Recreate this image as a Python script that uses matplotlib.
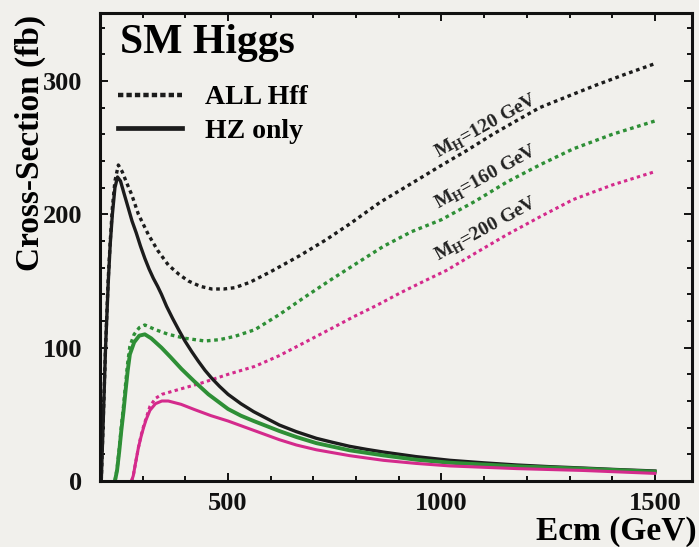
import matplotlib
matplotlib.use("Agg")
import matplotlib.pyplot as plt
from matplotlib.lines import Line2D
from matplotlib.ticker import MultipleLocator

# ---- data (Ecm in GeV, cross-section in fb) ----
# M_H = 120 GeV
x120_hz = [203, 205, 208, 213, 219.5, 224, 229, 235, 241, 248, 256, 266, 275, 285, 295, 305, 315, 325, 335, 344,
           356, 370, 385, 399, 415, 430, 446, 462, 480, 500, 530, 560, 590, 620, 660, 707, 745, 785, 825, 864,
           940, 1020, 1100, 1176, 1250, 1332, 1410, 1500]
y120_hz = [0, 20, 49, 100, 150, 178, 200, 220, 228, 225, 216, 205, 195, 186, 176, 167, 159, 152, 146, 140,
           131, 122, 113, 105, 97, 90, 83, 77, 71, 65, 58, 52, 47, 42, 37, 32, 29, 26, 23.7, 21.7,
           18.3, 15.5, 13.6, 12, 10.8, 9.7, 8.6, 7.5]
x120_all = [203, 205, 208, 213, 219, 224, 229, 235, 243, 252, 262, 274, 290, 313, 335, 360, 385, 407, 435, 462,
            490, 516, 551, 600, 668, 730, 786, 856, 903, 960, 996, 1060, 1120, 1180, 1230, 1300, 1363, 1430, 1500]
y120_all = [0, 20, 50, 100, 150, 180, 205, 225, 237, 232, 224, 215, 200, 185, 173, 162, 155, 150, 146, 144,
            144, 145, 149, 157, 169, 181, 193, 209, 218, 229, 236, 248, 260, 271, 280, 289, 297, 305, 313]

# M_H = 160 GeV
x160_hz = [235, 240, 245, 250, 255, 260, 265, 270, 280, 292, 305, 320, 344, 365, 391, 420, 454, 500, 530, 560,
           620, 660, 707, 785, 864, 940, 1020, 1176, 1332, 1500]
y160_hz = [0, 8, 22, 38, 52, 68, 83, 95, 104, 109, 110, 107, 100, 93, 84, 75, 65, 54, 49, 45,
           37.5, 33, 28.4, 23, 19.2, 16, 13.7, 11, 9.2, 7]
x160_all = [235, 240, 245, 250, 255, 260, 265, 270, 280, 292, 305, 330, 360, 400, 446, 480, 516, 563, 621, 680,
            746, 800, 864, 930, 1000, 1080, 1152, 1230, 1308, 1400, 1500]
y160_all = [0, 9, 24, 41, 56, 73, 89, 101, 110, 115, 117, 113.5, 110, 107, 105, 106, 108.5, 113.5, 125, 138,
            152, 163, 176, 187, 196, 210, 224, 237, 249, 260, 270]

# M_H = 200 GeV
x200_hz = [274, 278, 283, 290, 296, 302, 308, 317, 330, 345, 360, 390, 422, 460, 500, 560, 620, 660, 707, 785,
           864, 940, 1020, 1176, 1332, 1500]
y200_hz = [0, 4, 13, 25, 33, 40, 46, 53, 58, 60, 60, 57.5, 53.5, 49, 45, 38, 31, 27, 23.4, 19,
           15.5, 13.2, 11.3, 9.3, 7.9, 5.7]
x200_all = [274, 278, 283, 290, 296, 302, 308, 317, 330, 345, 383, 438, 500, 563, 620, 680, 740, 793, 850, 903,
            960, 1012, 1080, 1152, 1230, 1308, 1400, 1500]
y200_all = [0, 4, 13, 25, 34, 41, 47, 56, 62, 65, 68.5, 73.5, 80, 86, 94, 104, 114, 123, 132, 141,
            150, 158, 171, 184.5, 198, 211, 222, 232]

mass_labels = [r"M$_{\mathbf{H}}$=120 GeV", r"M$_{\mathbf{H}}$=160 GeV", r"M$_{\mathbf{H}}$=200 GeV"]
label_pos = [(994, 242), (994, 204), (994, 165)]

BG = "#f1f0ec"
BLACK = "#1c1c1c"
GREEN = "#2e8f36"
PINK = "#d42a8c"
DOT = (0, (1.1, 1.1))

plt.rcParams["font.family"] = ["Liberation Serif", "DejaVu Serif"]
plt.rcParams["font.weight"] = "bold"
plt.rcParams["mathtext.fontset"] = "custom"
plt.rcParams["mathtext.rm"] = "Liberation Serif:bold"
plt.rcParams["mathtext.bf"] = "Liberation Serif:bold"

fig = plt.figure(figsize=(6.99, 5.47), dpi=100, facecolor=BG)
ax = fig.add_axes([100 / 699, 1 - 481 / 547, 592 / 699, 468 / 547], facecolor=BG)

ax.plot(x120_all, y120_all, color=BLACK, lw=2.4, ls=DOT, dash_capstyle="butt")
ax.plot(x160_all, y160_all, color=GREEN, lw=2.4, ls=DOT, dash_capstyle="butt")
ax.plot(x200_all, y200_all, color=PINK, lw=2.2, ls=DOT, dash_capstyle="butt")
ax.plot(x120_hz, y120_hz, color=BLACK, lw=2.4)
ax.plot(x160_hz, y160_hz, color=GREEN, lw=2.8)
ax.plot(x200_hz, y200_hz, color=PINK, lw=2.2)

for txt, (lx, ly) in zip(mass_labels, label_pos):
    ax.text(lx, ly, txt, fontsize=14, fontweight="bold", rotation=29,
            rotation_mode="anchor", ha="left", va="baseline", color="#222222")

ax.set_xlim(200, 1587)
ax.set_ylim(0, 351)
ax.xaxis.set_major_locator(MultipleLocator(500))
ax.xaxis.set_minor_locator(MultipleLocator(100))
ax.yaxis.set_major_locator(MultipleLocator(100))
ax.yaxis.set_minor_locator(MultipleLocator(20))
ax.tick_params(which="both", direction="in", top=True, right=True, width=1.4, colors="#111111")
ax.tick_params(which="major", length=6, labelsize=19)
ax.tick_params(which="minor", length=3.5)
ax.tick_params(axis="y", pad=13)
ax.tick_params(axis="x", pad=8)
for lab in ax.get_xticklabels() + ax.get_yticklabels():
    lab.set_fontweight("bold")
for sp in ax.spines.values():
    sp.set_linewidth(2.2)
    sp.set_color("#111111")

ax.set_ylabel("Cross-Section (fb)", fontsize=24, fontweight="bold", ha="center", va="center")
ax.yaxis.set_label_coords(-0.117, 0.722)
ax.set_xlabel("Ecm (GeV)", fontsize=24, fontweight="bold", ha="right", va="baseline")
ax.xaxis.set_label_coords(1.0084, -0.126)

ax.text(0.034, 0.9145, "SM Higgs", transform=ax.transAxes, fontsize=30,
        fontweight="bold", ha="left", va="baseline")

handles = [Line2D([], [], color=BLACK, lw=3.2, ls=(0, (1.2, 0.7)), dash_capstyle="butt"),
           Line2D([], [], color=BLACK, lw=3.4)]
ax.legend(handles, ["ALL Hff", "HZ only"], loc="center left", bbox_to_anchor=(0.030, 0.783),
          frameon=False, borderpad=0, borderaxespad=0, handlelength=2.3, handletextpad=0.85,
          labelspacing=0.3, prop={"family": "Liberation Serif", "weight": "bold", "size": 20})

fig.savefig("out.png", dpi=100, facecolor=BG)
